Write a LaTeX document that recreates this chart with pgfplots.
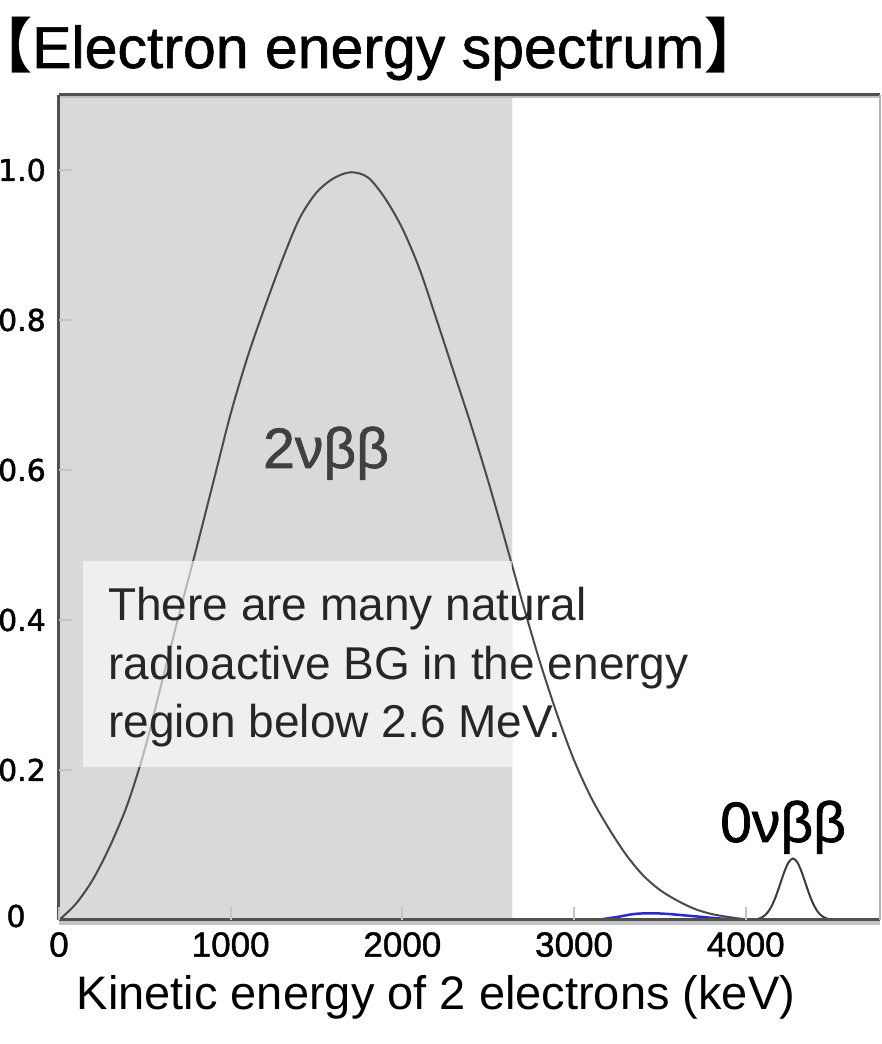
\documentclass[border=0pt]{standalone}
\usepackage{pgfplots}
\pgfplotsset{compat=1.18}
\usepackage{pgfplotstable}
\usepackage{fontspec}
\setmainfont{Liberation Sans}
\newfontfamily\dejavu[FakeBold=1.5]{DejaVu Sans}
\newfontfamily\boldish[FakeBold=1.2]{Liberation Sans}
\newfontfamily\titlefont[FakeBold=1]{Liberation Sans}
\newfontfamily\cjk{Noto Sans CJK JP}
\definecolor{bggray}{HTML}{D9D9D9}
\definecolor{curvec}{HTML}{4A4A4A}
\definecolor{axisdark}{HTML}{505050}
\definecolor{tickgray}{HTML}{C4C4C4}
\definecolor{bluecurve}{HTML}{2A2AC8}

\pgfplotstableread{
x y
0 0
100 0.022
200 0.055
300 0.100
400 0.155
500 0.228
600 0.318
700 0.408
800 0.495
900 0.585
1000 0.675
1100 0.752
1200 0.818
1300 0.880
1400 0.935
1500 0.970
1600 0.989
1700 0.997
1800 0.990
1900 0.962
2000 0.922
2100 0.868
2200 0.800
2300 0.730
2400 0.660
2500 0.585
2600 0.505
2700 0.423
2800 0.345
2900 0.275
3000 0.213
3100 0.163
3200 0.123
3300 0.088
3400 0.060
3500 0.040
3600 0.026
3700 0.015
3800 0.008
3900 0.004
4000 0.001
4100 0
}\twonu

\pgfplotstableread{
x y
3130 0
3250 0.004
3350 0.008
3450 0.009
3550 0.008
3700 0.005
3850 0.002
4050 0
}\bgblue

\pgfplotstableread{
x y
4000 0
4050 0.0005
4075 0.0017
4100 0.0043
4125 0.0094
4150 0.0182
4175 0.0313
4200 0.0477
4225 0.0644
4250 0.0772
4275 0.0820
4300 0.0772
4325 0.0644
4350 0.0477
4375 0.0313
4400 0.0182
4425 0.0094
4450 0.0043
4475 0.0017
4500 0.0005
4550 0
}\zeronu

\begin{document}
\begin{tikzpicture}[x=1pt,y=1pt]
\useasboundingbox (0,0) rectangle (881,1044);
\begin{axis}[
  at={(59pt,124pt)}, anchor=south west,
  scale only axis, width=821pt, height=825pt,
  xmin=0, xmax=4782, ymin=0, ymax=1.1,
  axis line style={draw=none},
  axis on top,
  xtick={0,1000,2000,3000,4000},
  xticklabels={0,1000,2000,3000,4000},
  ytick={0.2,0.4,0.6,0.8,1.0},
  yticklabels={0.2,0.4,0.6,0.8,1.0},
  xtick pos=left, ytick pos=left,
  tick align=inside,
  major tick length=13pt,
  tick style={draw=tickgray, line width=2pt},
  xticklabel style={font=\boldish\fontsize{35}{35}\selectfont, anchor=north, inner sep=0pt, yshift=-12pt},
  yticklabel style={font=\dejavu\fontsize{30}{30}\selectfont, anchor=east, inner sep=0pt, xshift=-13pt},
  clip=false,
]
\addplot[draw=none, fill=bggray] coordinates {(0,0) (2640,0) (2640,1.1) (0,1.1)} \closedcycle;
\addplot[curvec, line width=2pt, smooth, tension=0.5] table[x=x,y=y] {\twonu};
\addplot[bluecurve, line width=2.5pt, smooth] table[x=x,y=y] {\bgblue};
\addplot[curvec!80!black, line width=2pt, smooth] table[x=x,y=y] {\zeronu};
\draw[tickgray, line width=4pt] ([yshift=-3.5pt]rel axis cs:0,0) -- ([yshift=-3.5pt]rel axis cs:1,0);
\draw[gray!50, line width=2pt] ([yshift=-2.5pt]rel axis cs:0,1) -- ([yshift=-2.5pt]rel axis cs:1,1);
\draw[axisdark, line width=3pt] (rel axis cs:0,0) -- (rel axis cs:1,0);
\draw[axisdark, line width=3pt] (rel axis cs:0,0) -- (rel axis cs:0,1);
\draw[axisdark, line width=3pt] (rel axis cs:0,1) -- (rel axis cs:1,1);
\draw[gray!60, line width=1.5pt] (rel axis cs:1,0) -- (rel axis cs:1,1);
\end{axis}
% translucent note box
\fill[white, fill opacity=0.6] (83,277) rectangle (512,483);
\node[anchor=base west, inner sep=0, text=black!85] at (108,423) {\fontsize{46}{46}\selectfont There are many natural};
\node[anchor=base west, inner sep=0, text=black!85] at (108,364) {\fontsize{46}{46}\selectfont radioactive BG in the energy};
\node[anchor=base west, inner sep=0, text=black!85] at (108,306) {\fontsize{46}{46}\selectfont region below 2.6 MeV.};
% peak labels
\node[anchor=base west, inner sep=0, text=black!75] at (263,576) {\boldish\fontsize{57}{57}\selectfont 2νββ};
\node[anchor=base west, inner sep=0, text=black] at (720,202) {\boldish\fontsize{57}{57}\selectfont 0νββ};
% y=0 tick label
\node[inner sep=0, font=\dejavu\fontsize{30}{30}\selectfont] at (16,128) {0};
% title
\node[anchor=base west, inner sep=0] at (2,976) {\titlefont\fontsize{59}{62}\selectfont\hspace*{-29pt}{\cjk\bfseries 【}Electron energy spectrum{\cjk\bfseries 】}};
% x label
\node[anchor=base, inner sep=0] at (436,34) {\fontsize{47}{50}\selectfont Kinetic energy of 2 electrons (keV)};
\end{tikzpicture}
\end{document}
